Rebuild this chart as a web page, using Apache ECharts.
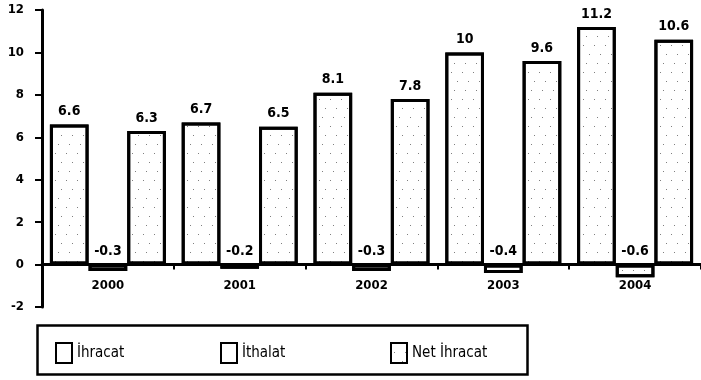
<!DOCTYPE html>
<html><head><meta charset="utf-8">
<script src="https://cdn.jsdelivr.net/npm/echarts@6/dist/echarts.min.js"></script>
<style>html,body{margin:0;padding:0;background:#fff}#c{width:701px;height:380px}</style>
</head><body><div id="c"></div>
<script>
const categories = ['2000', '2001', '2002', '2003', '2004'];
const ihracat = [6.6, 6.7, 8.1, 10, 11.2];
const ithalat = [-0.3, -0.2, -0.3, -0.4, -0.6];
const netIhracat = [6.3, 6.5, 7.8, 9.6, 10.6];
const yTicks = [-2, 0, 2, 4, 6, 8, 10, 12];
const names = ['İhracat', 'İthalat', 'Net İhracat'];

const FONT = "'Liberation Sans Narrow', 'DejaVu Sans Condensed', 'Arial Narrow', sans-serif";
const decal = {
  symbol: 'rect', symbolSize: 1, color: 'rgba(0,0,0,0.5)',
  dashArrayX: [[1, 10], [0, 6, 1, 4], [0, 3, 1, 7]],
  dashArrayY: [1, 8], rotation: 0
};
function mk(name, data) {
  return {
    name, type: 'bar', data, barGap: '0%', barCategoryGap: '12%',
    itemStyle: { color: '#fff', borderColor: '#000', borderWidth: 3, decal },
    label: { show: true, position: 'top', distance: 6, color: '#000',
      fontFamily: FONT, fontWeight: 'bold', fontSize: 14 }
  };
}
const chart = echarts.init(document.getElementById('c'));
chart.setOption({
  animation: false,
  backgroundColor: '#fff',
  grid: { left: 42, top: 10, width: 661, height: 297 },
  xAxis: {
    type: 'category', data: categories,
    axisLine: { onZero: true, lineStyle: { color: '#000', width: 3 } },
    axisTick: { show: true, length: 5, inside: false, lineStyle: { color: '#000', width: 2 } },
    axisLabel: { margin: -28, color: '#000', fontFamily: FONT, fontWeight: 'bold', fontSize: 13 }
  },
  yAxis: {
    type: 'value', min: -2, max: 12, interval: 2,
    axisLine: { show: true, lineStyle: { color: '#000', width: 3 } },
    axisTick: { show: true, length: 7, lineStyle: { color: '#000', width: 2 } },
    splitLine: { show: false },
    axisLabel: { margin: 18, color: '#000', fontFamily: FONT, fontWeight: 'bold', fontSize: 13,
      formatter: v => yTicks.includes(v) ? String(v) : '' }
  },
  legend: [0, 1, 2].map((i) => ({
    data: [{ name: names[i], itemStyle: i < 2 ? { decal: 'none' } : {} }],
    left: [50, 215, 385][i], top: 337, itemWidth: 16, itemHeight: 20, itemGap: 10,
    icon: 'rect', selectedMode: false,
    textStyle: { color: '#000', fontFamily: FONT, fontSize: 15 }
  })),
  graphic: [{
    type: 'rect', left: 35, top: 323, shape: { width: 490, height: 49 },
    style: { fill: 'none', stroke: '#000', lineWidth: 2.5 }
  }],
  series: [mk(names[0], ihracat), mk(names[1], ithalat), mk(names[2], netIhracat)]
});
</script></body></html>
